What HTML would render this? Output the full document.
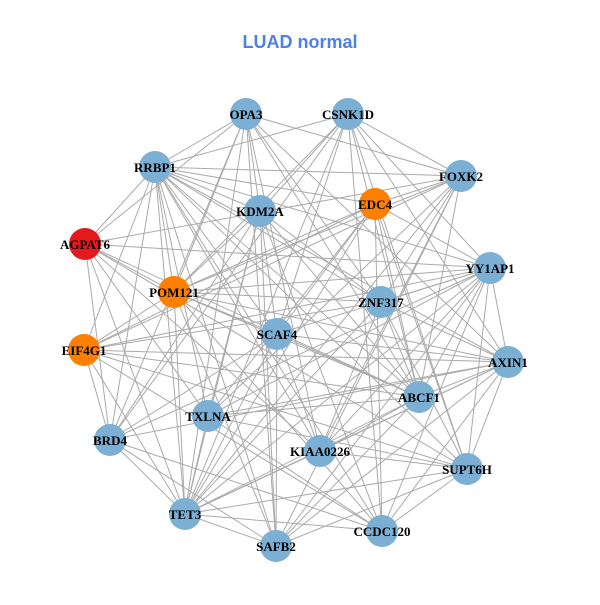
<!DOCTYPE html>
<html><head><meta charset="utf-8"><style>
body{margin:0;background:#fff;width:600px;height:600px;overflow:hidden}
</style></head><body>
<svg id="s" width="600" height="600" xmlns="http://www.w3.org/2000/svg">
<rect width="600" height="600" fill="#fff"/>
<text x="300" y="48" text-anchor="middle" font-family="Liberation Sans, sans-serif" font-weight="bold" font-size="18" fill="#4F7FE8">LUAD normal</text>
<g id="e" stroke="#aaaaaa" stroke-width="1"></g>
<g id="n"></g>
</svg>
<script>
var N=[["OPA3",246,114,"#7BAFD4"],["CSNK1D",348,114,"#7BAFD4"],["RRBP1",155,167,"#7BAFD4"],["FOXK2",461,176,"#7BAFD4"],["EDC4",375,204,"#FF7F00"],["KDM2A",260,211,"#7BAFD4"],["AGPAT6",85,244,"#E41A1C"],["YY1AP1",490,268,"#7BAFD4"],["POM121",174,292,"#FF7F00"],["ZNF317",381,302,"#7BAFD4"],["SCAF4",277,334,"#7BAFD4"],["EIF4G1",84,350,"#FF7F00"],["AXIN1",508,362,"#7BAFD4"],["ABCF1",419,397,"#7BAFD4"],["TXLNA",208,416,"#7BAFD4"],["BRD4",110,440,"#7BAFD4"],["KIAA0226",320,451,"#7BAFD4"],["SUPT6H",467,469,"#7BAFD4"],["TET3",185,514,"#7BAFD4"],["SAFB2",276,546,"#7BAFD4"],["CCDC120",382,531,"#7BAFD4"]];
var ns="http://www.w3.org/2000/svg",E=document.getElementById("e"),G=document.getElementById("n");
for(var i=0;i<N.length;i++)for(var j=i+1;j<N.length;j++){
 if(((i*7+j*13+i*j)%10)<4)continue;
 var l=document.createElementNS(ns,"line");
 l.setAttribute("x1",N[i][1]);l.setAttribute("y1",N[i][2]);l.setAttribute("x2",N[j][1]);l.setAttribute("y2",N[j][2]);E.appendChild(l);}
N.forEach(function(d){var c=document.createElementNS(ns,"circle");c.setAttribute("cx",d[1]);c.setAttribute("cy",d[2]);c.setAttribute("r",16);c.setAttribute("fill",d[3]);G.appendChild(c);
var t=document.createElementNS(ns,"text");t.setAttribute("x",d[1]);t.setAttribute("y",d[2]+5);t.setAttribute("text-anchor","middle");t.setAttribute("font-family","Liberation Serif, serif");t.setAttribute("font-weight","bold");t.setAttribute("font-size","13");t.textContent=d[0];G.appendChild(t);});
</script>
</body></html>
